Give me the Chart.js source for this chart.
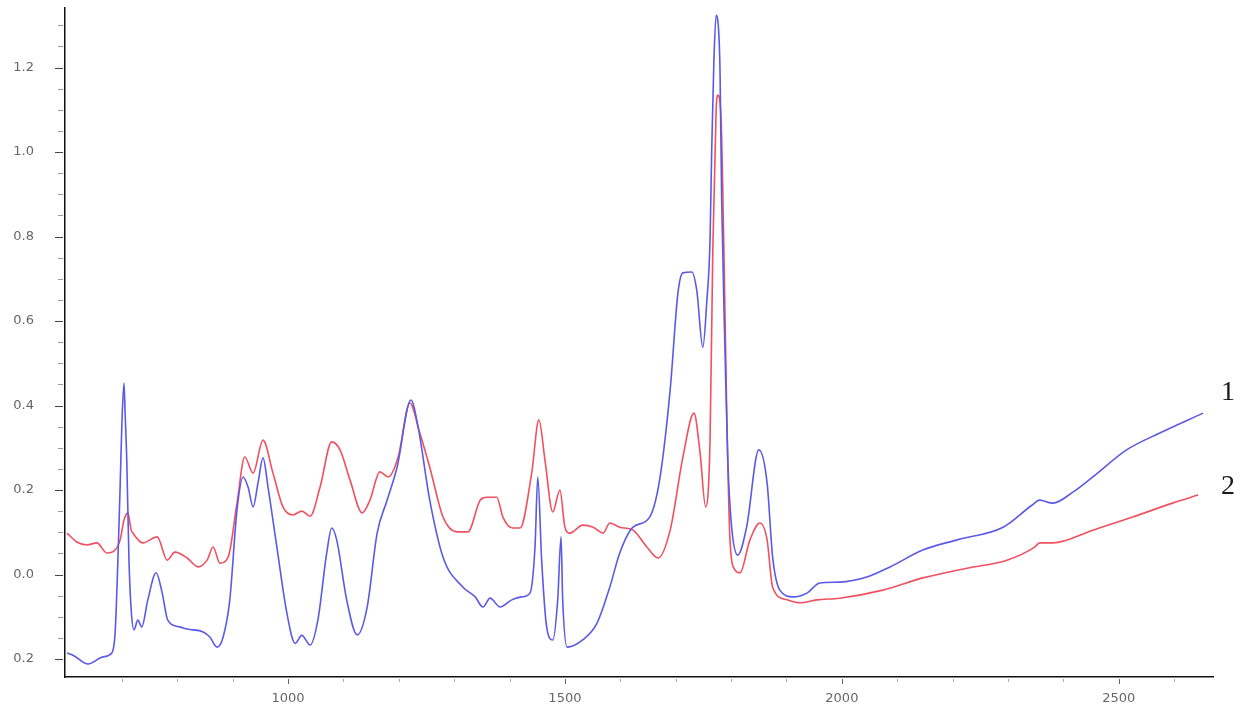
<!DOCTYPE html>
<html>
<head>
<meta charset="utf-8">
<script src="https://cdn.jsdelivr.net/npm/chart.js@4/dist/chart.umd.min.js"></script>
<style>
  html, body { margin: 0; padding: 0; background: #fff; }
  #wrap { width: 1246px; height: 704px; }
</style>
</head>
<body>
<div id="wrap"><canvas id="spectre"></canvas></div>
<script>
// spectre 1 (bleu)
const xBlue = [601, 612, 639, 666, 682, 688, 693, 697, 700, 704,
  706, 709, 713, 717, 722, 729, 736, 747, 762, 773,
  783, 805, 818, 847, 859, 872, 883, 895, 908, 919,
  928, 937, 946, 955, 964, 980, 998, 1013, 1025, 1040,
  1054, 1070, 1079, 1088, 1106, 1125, 1143, 1161, 1179, 1197,
  1222, 1235, 1256, 1280, 1316, 1338, 1352, 1365, 1383, 1404,
  1422, 1437, 1446, 1451, 1458, 1467, 1478, 1487, 1493, 1496,
  1504, 1532, 1558, 1581, 1599, 1623, 1653, 1671, 1690, 1704,
  1713, 1729, 1738, 1749, 1756, 1762, 1765, 1769, 1773, 1776,
  1780, 1783, 1789, 1794, 1801, 1812, 1828, 1850, 1865, 1875,
  1888, 1912, 1937, 1960, 1996, 2045, 2087, 2146, 2208, 2291,
  2343, 2357, 2381, 2417, 2453, 2514, 2574, 2652];
const yBlue = [-0.186, -0.191, -0.212, -0.195, -0.186, -0.138, 0.034, 0.207, 0.349, 0.453,
  0.382, 0.271, 0.034, -0.084, -0.131, -0.108, -0.124, -0.060, 0.004, -0.044,
  -0.108, -0.124, -0.129, -0.136, -0.148, -0.172, -0.148, -0.060, 0.153, 0.231,
  0.207, 0.160, 0.217, 0.276, 0.207, 0.065, -0.091, -0.163, -0.144, -0.167,
  -0.108, 0.051, 0.110, 0.082, -0.060, -0.143, -0.077, 0.098, 0.176, 0.254,
  0.413, 0.349, 0.176, 0.041, -0.030, -0.053, -0.077, -0.056, -0.077, -0.060,
  -0.053, -0.044, 0.065, 0.231, 0.034, -0.124, -0.155, -0.060, 0.089, -0.060,
  -0.172, -0.155, -0.115, -0.030, 0.051, 0.112, 0.136, 0.224, 0.437, 0.666,
  0.714, 0.716, 0.673, 0.538, 0.643, 0.792, 1.005, 1.218, 1.324, 1.312,
  1.194, 0.886, 0.531, 0.271, 0.112, 0.046, 0.112, 0.295, 0.217, 0.041,
  -0.037, -0.053, -0.044, -0.020, -0.018, -0.006, 0.018, 0.058, 0.082, 0.112,
  0.164, 0.176, 0.169, 0.195, 0.231, 0.295, 0.335, 0.382];

// spectre 2 (rouge)
const xRed = [601, 619, 637, 655, 673, 688, 697, 704, 711, 717,
  720, 738, 764, 782, 796, 818, 838, 854, 865, 877,
  892, 908, 922, 937, 955, 973, 991, 1009, 1025, 1040,
  1058, 1079, 1094, 1112, 1134, 1148, 1166, 1181, 1199, 1220,
  1238, 1256, 1280, 1305, 1325, 1347, 1359, 1377, 1388, 1406,
  1419, 1440, 1453, 1464, 1478, 1491, 1500, 1509, 1532, 1551,
  1569, 1581, 1599, 1623, 1648, 1668, 1690, 1713, 1733, 1744,
  1754, 1762, 1767, 1773, 1776, 1782, 1787, 1792, 1798, 1807,
  1816, 1834, 1852, 1865, 1875, 1901, 1924, 1955, 1996, 2074,
  2146, 2226, 2298, 2348, 2357, 2381, 2453, 2525, 2597, 2643];
const yRed = [0.098, 0.077, 0.070, 0.075, 0.051, 0.058, 0.082, 0.129, 0.146, 0.105,
  0.098, 0.075, 0.089, 0.034, 0.053, 0.039, 0.018, 0.034, 0.065, 0.027,
  0.041, 0.169, 0.278, 0.240, 0.318, 0.240, 0.160, 0.141, 0.150, 0.138,
  0.207, 0.314, 0.295, 0.224, 0.146, 0.176, 0.243, 0.231, 0.278, 0.406,
  0.335, 0.254, 0.136, 0.101, 0.101, 0.176, 0.183, 0.183, 0.136, 0.110,
  0.110, 0.240, 0.366, 0.271, 0.148, 0.200, 0.112, 0.098, 0.117, 0.112,
  0.098, 0.122, 0.112, 0.105, 0.065, 0.039, 0.105, 0.278, 0.382, 0.288,
  0.160, 0.318, 0.768, 1.099, 1.135, 1.076, 0.768, 0.396, 0.082, 0.011,
  0.004, 0.082, 0.122, 0.082, -0.030, -0.060, -0.067, -0.060, -0.056, -0.037,
  -0.008, 0.015, 0.034, 0.065, 0.075, 0.075, 0.105, 0.136, 0.169, 0.188];

const seriesNames = ["1", "2"];
const xTickValues = [1000, 1500, 2000, 2500];
const yTickValues = [-0.2, 0.0, 0.2, 0.4, 0.6, 0.8, 1.0, 1.2];
const yTickLabels = ["0.2", "0.0", "0.2", "0.4", "0.6", "0.8", "1.0", "1.2"];

function pairs(xs, ys) {
  return xs.map((x, i) => ({ x: x, y: ys[i] }));
}

// petits traits des axes (majeurs + mineurs) et numeros des courbes
const extras = {
  id: "extras",
  afterDraw(chart) {
    const ctx = chart.ctx;
    const area = chart.chartArea;
    const sx = chart.scales.x;
    const sy = chart.scales.y;
    ctx.save();
    ctx.lineWidth = 1;
    // y
    for (let k = -5; k <= 27; k++) {
      const v = k * 0.05;
      if (v < sy.min || v > sy.max) continue;
      const py = Math.round(sy.getPixelForValue(v)) + 0.5;
      const major = k % 4 === 0;
      ctx.strokeStyle = major ? "#444" : "#999";
      ctx.beginPath();
      ctx.moveTo(area.left - (major ? 10 : 7), py);
      ctx.lineTo(area.left - 2, py);
      ctx.stroke();
    }
    // x
    for (let v = 700; v <= 2600; v += 100) {
      const px = Math.round(sx.getPixelForValue(v)) + 0.5;
      const major = v % 500 === 0;
      ctx.strokeStyle = major ? "#666" : "#aaa";
      ctx.beginPath();
      ctx.moveTo(px, area.bottom + 2);
      ctx.lineTo(px, area.bottom + (major ? 7 : 5));
      ctx.stroke();
    }
    // numeros
    const offsets = [-20, -8];
    ctx.fillStyle = "#1a1a1a";
    ctx.font = "28px 'Liberation Serif', serif";
    ctx.textAlign = "center";
    ctx.textBaseline = "middle";
    chart.data.datasets.forEach((ds, i) => {
      const pts = chart.getDatasetMeta(i).data;
      const last = pts[pts.length - 1];
      ctx.fillText(seriesNames[i], area.right + 15, last.y + offsets[i]);
    });
    ctx.restore();
  }
};

const ctx = document.getElementById("spectre").getContext("2d");

new Chart(ctx, {
  type: "line",
  data: {
    datasets: [
      {
        label: seriesNames[0],
        data: pairs(xBlue, yBlue),
        borderColor: "#5a5ae6",
        borderWidth: 1.6,
        pointRadius: 0,
        cubicInterpolationMode: "monotone",
      },
      {
        label: seriesNames[1],
        data: pairs(xRed, yRed),
        borderColor: "#f0505f",
        borderWidth: 1.6,
        pointRadius: 0,
        cubicInterpolationMode: "monotone",
      },
    ],
  },
  options: {
    responsive: true,
    maintainAspectRatio: false,
    animation: false,
    layout: { padding: { top: 8, right: 33, left: 0, bottom: 0 } },
    plugins: {
      legend: { display: false },
      tooltip: { enabled: false },
    },
    scales: {
      x: {
        type: "linear",
        min: 597.5,
        max: 2670,
        afterFit(scale) { scale.height = 27; },
        afterBuildTicks(scale) {
          scale.ticks = xTickValues.map(v => ({ value: v }));
        },
        grid: { display: false },
        border: { display: true, color: "#111", width: 1.5 },
        ticks: {
          autoSkip: false,
          maxRotation: 0,
          padding: 6,
          color: "#666",
          font: { family: "'DejaVu Sans', sans-serif", size: 13 },
          callback: (v) => String(v),
        },
      },
      y: {
        type: "linear",
        min: -0.2426,
        max: 1.341,
        afterFit(scale) { scale.width = 65; },
        afterBuildTicks(scale) {
          scale.ticks = yTickValues.map(v => ({ value: v }));
        },
        // les traits sont dessines par le plugin, ici juste l'ecart du texte
        grid: {
          display: true,
          drawOnChartArea: false,
          drawTicks: true,
          tickLength: 31,
          tickColor: "rgba(0,0,0,0)",
        },
        border: { display: true, color: "#111", width: 1.5 },
        ticks: {
          autoSkip: false,
          padding: 0,
          color: "#666",
          font: { family: "'DejaVu Sans', sans-serif", size: 13 },
          callback: (v, i) => yTickLabels[i],
        },
      },
    },
  },
  plugins: [extras],
});
</script>
</body>
</html>
